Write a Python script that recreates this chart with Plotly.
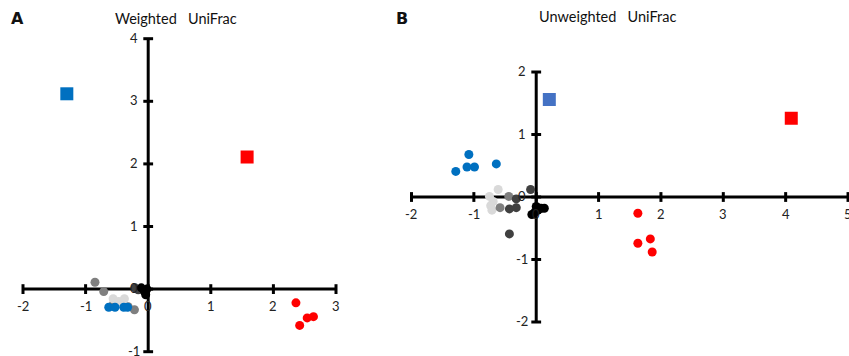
import plotly.graph_objects as go

W, H = 849, 356

# ---------------- Data ----------------
# Panel A: Weighted UniFrac
a_blue_sq_x = [-1.30]
a_blue_sq_y = [3.12]
a_red_sq_x = [1.58]
a_red_sq_y = [2.11]
a_red_x = [2.36, 2.42, 2.54, 2.64]
a_red_y = [-0.22, -0.58, -0.46, -0.44]
a_gray_x = [-0.85, -0.71, -0.22, -0.56, -0.32]
a_gray_y = [0.11, -0.04, -0.33, -0.25, -0.28]
a_light_x = [-0.56, -0.38, -0.47]
a_light_y = [-0.155, -0.155, -0.20]
a_blue_x = [-0.63, -0.53, -0.39, -0.33]
a_blue_y = [-0.29, -0.29, -0.29, -0.29]
a_dark_x = [-0.21, -0.16]
a_dark_y = [0.02, -0.01]
a_black_x = [-0.11, -0.06, -0.04, -0.02]
a_black_y = [0.02, -0.04, -0.09, 0.00]

# Panel B: Unweighted UniFrac
b_blue_sq_x = [0.21]
b_blue_sq_y = [1.56]
b_red_sq_x = [4.09]
b_red_sq_y = [1.26]
b_red_x = [1.63, 1.63, 1.83, 1.86]
b_red_y = [-0.26, -0.74, -0.67, -0.88]
b_blue_x = [-1.08, -1.29, -1.11, -0.99, -0.64]
b_blue_y = [0.68, 0.41, 0.48, 0.48, 0.53]
b_light_x = [-0.61, -0.75, -0.69, -0.73, -0.71]
b_light_y = [0.12, 0.01, -0.07, -0.14, -0.21]
b_gray_x = [-0.44, -0.58]
b_gray_y = [0.01, -0.17]
b_dark_x = [-0.32, -0.43, -0.32, -0.43, -0.09]
b_dark_y = [-0.03, -0.19, -0.17, -0.59, 0.12]
b_black_x = [-0.07, 0.00, 0.08, 0.13, -0.02, 0.03]
b_black_y = [-0.28, -0.15, -0.18, -0.18, -0.24, -0.21]

a_xticks = [-2, -1, 0, 1, 2, 3]
a_yticks = [-1, 0, 1, 2, 3, 4]
b_xticks = [-2, -1, 0, 1, 2, 3, 4, 5]
b_yticks = [-2, -1, 0, 1, 2]

titles = ["Weighted\u00a0\u00a0\u00a0UniFrac", "Unweighted\u00a0\u00a0\u00a0UniFrac"]
panel_letters = ["A", "B"]

BLUE = "#0070C0"
BLUE2 = "#4472C4"
RED = "#FF0000"
GRAY = "#7F7F7F"
LIGHT = "#D9D9D9"
DARK = "#404040"
BLACK = "#000000"
FONT = "Lato"

# ---------------- Layout geometry ----------------
def dom_x(rng, px_at, val_at, scale):
    lo = px_at + (rng[0] - val_at) * scale
    hi = px_at + (rng[1] - val_at) * scale
    return [lo / W, hi / W]

def dom_y(rng, py_at, val_at, scale):
    lo_px = py_at + (val_at - rng[0]) * scale
    hi_px = py_at - (rng[1] - val_at) * scale
    return [(H - lo_px) / H, (H - hi_px) / H]

a_xr = [-2.2, 3.2]
a_yr = [-1.06, 4.1]
b_xr = [-2.2, 5.015]
b_yr = [-2.15, 2.15]

fig = go.Figure()

def add_axes(xt, yt, xa, ya):
    fig.add_trace(go.Scatter(x=[min(xt), max(xt)], y=[0, 0], mode="lines",
                             line=dict(color="black", width=3), xaxis=xa, yaxis=ya,
                             hoverinfo="skip", showlegend=False))
    fig.add_trace(go.Scatter(x=[0, 0], y=[min(yt), max(yt)], mode="lines",
                             line=dict(color="black", width=3), xaxis=xa, yaxis=ya,
                             hoverinfo="skip", showlegend=False))
    fig.add_trace(go.Scatter(x=xt, y=[0] * len(xt), mode="markers",
                             marker=dict(symbol="line-ns", size=7,
                                         line=dict(color="black", width=3)),
                             xaxis=xa, yaxis=ya, cliponaxis=False,
                             hoverinfo="skip", showlegend=False))
    fig.add_trace(go.Scatter(x=[0] * len(yt), y=yt, mode="markers",
                             marker=dict(symbol="line-ew", size=7,
                                         line=dict(color="black", width=3)),
                             xaxis=xa, yaxis=ya, cliponaxis=False,
                             hoverinfo="skip", showlegend=False))

def pts(x, y, color, xa, ya, symbol="circle", size=9):
    fig.add_trace(go.Scatter(x=x, y=y, mode="markers",
                             marker=dict(color=color, size=size, symbol=symbol,
                                         line=dict(width=0)),
                             xaxis=xa, yaxis=ya, cliponaxis=False,
                             hoverinfo="skip", showlegend=False))

add_axes(a_xticks, a_yticks, "x", "y")
add_axes(b_xticks, b_yticks, "x2", "y2")

# Panel A points
pts(a_gray_x, a_gray_y, GRAY, "x", "y")
pts(a_light_x, a_light_y, LIGHT, "x", "y")
pts(a_blue_x, a_blue_y, BLUE, "x", "y")
pts(a_dark_x, a_dark_y, DARK, "x", "y")
pts(a_black_x, a_black_y, BLACK, "x", "y")
pts(a_red_x, a_red_y, RED, "x", "y")
pts(a_blue_sq_x, a_blue_sq_y, BLUE, "x", "y", "square", 13)
pts(a_red_sq_x, a_red_sq_y, RED, "x", "y", "square", 13)

# Panel B points
pts(b_light_x, b_light_y, LIGHT, "x2", "y2")
pts(b_gray_x, b_gray_y, GRAY, "x2", "y2")
pts(b_dark_x, b_dark_y, DARK, "x2", "y2")
pts(b_black_x, b_black_y, BLACK, "x2", "y2")
pts(b_blue_x, b_blue_y, BLUE, "x2", "y2")
pts(b_red_x, b_red_y, RED, "x2", "y2")
pts(b_blue_sq_x, b_blue_sq_y, BLUE2, "x2", "y2", "square", 13)
pts(b_red_sq_x, b_red_sq_y, RED, "x2", "y2", "square", 13)

annotations = []
def tick_labels(xt, yt, xref, yref):
    for k in xt:
        annotations.append(dict(x=k, y=0, xref=xref, yref=yref, text=str(k),
                                showarrow=False, yshift=-17, xanchor="center",
                                font=dict(family=FONT, size=13, color="#222")))
    for k in yt:
        annotations.append(dict(x=0, y=k, xref=xref, yref=yref, text=str(k),
                                showarrow=False, xshift=-14, yshift=1, xanchor="center",
                                font=dict(family=FONT, size=13, color="#222")))

tick_labels(a_xticks, a_yticks, "x", "y")
tick_labels(b_xticks, b_yticks, "x2", "y2")

annotations.append(dict(x=175.5 / W, y=(H - 18) / H, xref="paper", yref="paper",
                        text=titles[0], showarrow=False, xanchor="center", yanchor="middle",
                        font=dict(family=FONT, size=14.5, color="#111")))
annotations.append(dict(x=607.7 / W, y=(H - 17) / H, xref="paper", yref="paper",
                        text=titles[1], showarrow=False, xanchor="center", yanchor="middle",
                        font=dict(family=FONT, size=14.5, color="#111")))
annotations.append(dict(x=17 / W, y=(H - 19) / H, xref="paper", yref="paper",
                        text="<b>" + panel_letters[0] + "</b>", showarrow=False,
                        xanchor="center", yanchor="middle",
                        font=dict(family="DejaVu Sans", size=16, color="#111")))
annotations.append(dict(x=402 / W, y=(H - 19) / H, xref="paper", yref="paper",
                        text="<b>" + panel_letters[1] + "</b>", showarrow=False,
                        xanchor="center", yanchor="middle",
                        font=dict(family="DejaVu Sans", size=16, color="#111")))

hidden = dict(visible=False, showgrid=False, zeroline=False)
fig.update_layout(
    width=W, height=H,
    margin=dict(l=0, r=0, t=0, b=0),
    paper_bgcolor="white", plot_bgcolor="white",
    showlegend=False,
    xaxis=dict(range=a_xr, domain=dom_x(a_xr, 23, -2, 62.6), anchor="y", **hidden),
    yaxis=dict(range=a_yr, domain=dom_y(a_yr, 351.7, -1, 62.6), anchor="x", **hidden),
    xaxis2=dict(range=b_xr, domain=dom_x(b_xr, 411.5, -2, 62.36), anchor="y2", **hidden),
    yaxis2=dict(range=b_yr, domain=dom_y(b_yr, 322, -2, 62.5), anchor="x2", **hidden),
    annotations=annotations,
)

fig.write_html("out.html")
